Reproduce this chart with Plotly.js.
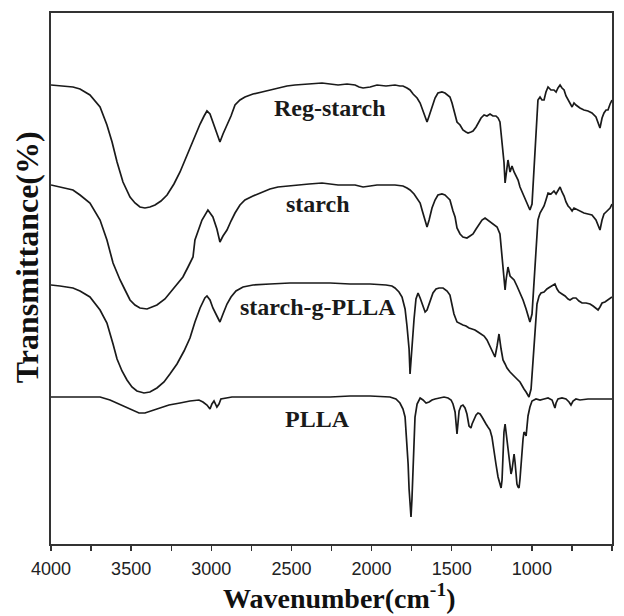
<!DOCTYPE html>
<html>
<head>
<meta charset="utf-8">
<script src="https://cdn.plot.ly/plotly-3.0.1.min.js"></script>
<style>
  html, body { margin: 0; padding: 0; background: #fff; }
  #chart { width: 624px; height: 616px; }
</style>
</head>
<body>
<div id="chart"></div>
<script>
// FTIR spectra, stacked with vertical offsets (arbitrary transmittance units)

const regStarchWn = [4000,3944,3863,3819,3757,3694,3651,3619,3588,3551,3507,3476,3445,3414,3383,3351,3314,3276,3233,3195,3164,3133,3102,3070,3045,3027,3008,2990,2965,2946,2927,2902,2877,2852,2821,2790,2740,2684,2634,2584,2528,2478,2390,2309,2259,2209,2153,2103,2078,2053,2009,1966,1910,1854,1823,1804,1779,1760,1741,1716,1697,1685,1666,1654,1641,1623,1604,1586,1561,1542,1523,1511,1498,1485,1467,1448,1430,1411,1398,1380,1367,1348,1336,1317,1298,1280,1261,1243,1224,1211,1199,1186,1174,1167,1161,1149,1136,1124,1111,1099,1086,1074,1055,1036,1024,1012,999,987,974,962,949,937,924,912,899,881,862,849,837,824,812,799,787,774,762,749,737,725,700,675,650,625,600,587,575,562,550,537,525,512,500];
const regStarchT  = [459,458,457,455,449,437,419,402,382,362,347,341,337,336,337,339,343,349,360,372,384,396,408,420,428,433,430,422,410,402,410,419,428,439,444,447,450,452,454,456,458,459,460,461,460,459,460,459,457,456,457,459,458,459,458,458,456,454,450,446,441,436,428,422,428,438,446,451,452,451,449,447,441,434,422,419,414,412,411,412,413,417,421,426,429,428,430,428,428,426,422,404,382,361,368,384,372,378,372,368,364,357,350,342,338,334,340,370,410,444,447,444,444,452,457,454,454,452,456,459,456,454,448,444,440,437,441,439,436,434,433,431,427,421,416,426,431,434,434,440,444];

const starchWn = [4000,3944,3863,3819,3757,3694,3651,3613,3569,3538,3507,3476,3445,3401,3363,3339,3289,3258,3214,3177,3145,3114,3102,3058,3021,3002,2990,2965,2946,2927,2902,2877,2852,2821,2790,2740,2684,2634,2584,2478,2390,2309,2259,2209,2103,2053,2009,1966,1854,1804,1779,1760,1735,1716,1697,1685,1666,1654,1641,1623,1604,1586,1561,1542,1523,1511,1492,1479,1467,1448,1430,1405,1386,1367,1348,1330,1311,1292,1274,1255,1236,1217,1199,1186,1174,1167,1161,1149,1136,1124,1111,1093,1074,1055,1036,1024,1012,999,987,974,962,949,937,924,912,899,881,862,849,837,824,812,799,787,774,762,749,737,725,700,675,650,625,600,587,575,562,550,537,512,500];
const starchT  = [359,357,354,349,341,324,304,281,264,254,244,239,236,235,237,239,245,251,260,267,277,287,304,324,334,330,327,315,302,308,314,323,331,339,344,348,352,355,357,359,360,361,360,359,359,357,358,359,359,358,356,354,350,346,341,334,325,317,324,336,344,349,350,349,346,344,333,327,316,310,307,306,308,310,315,320,324,326,324,322,320,317,310,290,270,254,264,277,268,266,264,258,251,244,235,228,222,230,260,300,324,331,334,338,344,351,350,353,350,354,357,352,348,342,338,336,333,336,335,333,331,330,329,324,318,314,324,330,332,336,340];

const graftWn = [4035,4000,3944,3863,3819,3757,3694,3651,3613,3588,3557,3526,3495,3464,3420,3383,3339,3295,3258,3214,3170,3133,3102,3070,3040,3027,3008,2990,2965,2946,2927,2902,2877,2846,2802,2740,2634,2509,2384,2259,2134,2009,1910,1873,1854,1829,1810,1791,1779,1766,1760,1754,1748,1735,1723,1710,1697,1685,1666,1654,1635,1617,1598,1579,1554,1529,1511,1498,1486,1467,1448,1430,1411,1392,1373,1355,1336,1317,1298,1280,1261,1243,1230,1217,1205,1192,1180,1167,1155,1136,1124,1111,1093,1074,1061,1049,1036,1024,1018,1005,993,980,968,955,943,924,906,887,868,856,843,831,812,793,774,762,743,725,706,687,662,637,618,600,587,575,562,544,525,500];
const graftT  = [259,259,258,256,253,247,234,221,200,185,173,164,157,153,151,152,156,162,170,180,193,206,222,236,246,248,244,236,228,222,230,240,247,253,257,259,260,261,261,261,260,260,259,258,256,252,247,235,218,195,170,185,200,225,245,251,246,240,232,234,243,251,255,256,256,253,249,240,230,222,220,219,218,216,215,214,212,210,208,204,198,192,187,198,210,195,184,180,176,172,170,167,165,162,158,155,152,149,147,155,180,215,240,248,251,252,255,257,259,260,255,252,250,248,245,244,246,246,243,241,241,240,238,236,234,237,241,242,244,247];

const pllaWn = [4000,3812,3694,3632,3588,3538,3495,3451,3414,3376,3326,3264,3195,3133,3077,3052,3027,3008,2996,2983,2965,2952,2940,2915,2871,2759,2509,2259,2134,2009,1885,1848,1823,1804,1791,1785,1779,1772,1766,1760,1754,1748,1741,1735,1729,1716,1697,1679,1660,1641,1623,1604,1579,1548,1523,1504,1492,1479,1467,1461,1454,1442,1430,1417,1405,1392,1380,1373,1361,1348,1336,1323,1311,1298,1286,1274,1261,1249,1236,1224,1211,1199,1192,1186,1180,1174,1167,1161,1155,1149,1142,1136,1130,1124,1117,1111,1105,1099,1093,1086,1080,1074,1068,1061,1055,1049,1043,1036,1030,1024,1012,999,974,949,924,899,874,862,856,849,837,812,787,768,756,743,725,700,650,600,550,500];
const pllaT  = [147,147,147,144,141,137,134,131,131,133,136,139,141,143,144,142,139,135,140,143,137,140,145,146,147,147,147,147,148,148,147,145,141,135,127,115,100,80,55,35,27,45,80,110,127,140,146,144,141,142,144,145,146,147,146,144,140,132,110,120,133,138,139,136,130,118,116,120,125,129,131,130,127,124,120,117,114,107,95,80,67,59,56,64,92,112,120,112,100,90,84,78,70,74,84,90,82,70,60,57,56,65,80,95,105,112,111,108,118,128,137,143,145,144,145,146,144,139,136,141,145,146,145,142,139,143,145,144,145,145,145,145];

const sampleNames = ['Reg-starch', 'starch', 'starch-g-PLLA', 'PLLA'];
const labelWn = [2259, 2334, 2334, 2340];
const labelT  = [436, 340, 237, 125];

const xTickVals = [4000, 3500, 3000, 2500, 2000, 1500, 1000, 500];
const xMinorVals = [3750, 3250, 2750, 2250, 1750, 1250, 750];

const xTitle = 'Wavenumber(cm<sup>-1</sup>)';
const yTitle = 'Transmittance(%)';

const serif = 'Liberation Serif, Times New Roman, serif';
const lineStyle = { color: '#1a1a1a', width: 1.7 };
const series = [
  [regStarchWn, regStarchT],
  [starchWn, starchT],
  [graftWn, graftT],
  [pllaWn, pllaT]
];

const traces = series.map((s, i) => ({
  type: 'scatter',
  mode: 'lines',
  x: s[0],
  y: s[1],
  name: sampleNames[i],
  line: lineStyle,
  cliponaxis: false,
  hoverinfo: 'skip'
}));

// curve labels
const annotations = sampleNames.map((name, i) => ({
  x: labelWn[i],
  y: labelT[i],
  xref: 'x',
  yref: 'y',
  text: name,
  showarrow: false,
  xanchor: 'center',
  yanchor: 'middle',
  font: { family: serif, size: 24, color: '#1a1a1a', weight: 'bold' }
}));

// axis titles, placed in paper coordinates
annotations.push({
  x: 0.515, y: -0.099, xref: 'paper', yref: 'paper',
  text: xTitle, showarrow: false, xanchor: 'center', yanchor: 'middle',
  font: { family: serif, size: 28, color: '#111', weight: 'bold' }
});
annotations.push({
  x: -0.043, y: 0.54, xref: 'paper', yref: 'paper',
  text: yTitle, showarrow: false, textangle: -90, xanchor: 'center', yanchor: 'middle',
  font: { family: serif, size: 32, color: '#111', weight: 'bold' }
});

const layout = {
  width: 624,
  height: 616,
  margin: { l: 51, r: 12, t: 13, b: 72 },
  paper_bgcolor: '#ffffff',
  plot_bgcolor: '#ffffff',
  showlegend: false,
  annotations: annotations,
  xaxis: {
    range: [4000, 500],
    tickmode: 'array',
    tickvals: xTickVals,
    ticktext: xTickVals.map(String),
    ticks: 'outside',
    ticklen: 5,
    tickwidth: 1.3,
    tickcolor: '#333',
    ticklabelstandoff: 3,
    minor: { tickmode: 'array', tickvals: xMinorVals, ticks: 'outside', ticklen: 5, tickwidth: 1.3, tickcolor: '#333' },
    showline: true,
    mirror: true,
    linecolor: '#333',
    linewidth: 1.6,
    showgrid: false,
    zeroline: false,
    tickfont: { family: 'Liberation Sans, Arial, sans-serif', size: 18, color: '#222' }
  },
  yaxis: {
    range: [0, 531],
    showticklabels: false,
    ticks: '',
    showline: true,
    mirror: true,
    linecolor: '#333',
    linewidth: 1.6,
    showgrid: false,
    zeroline: false
  }
};

Plotly.newPlot('chart', traces, layout, { displayModeBar: false, staticPlot: true });
</script>
</body>
</html>
